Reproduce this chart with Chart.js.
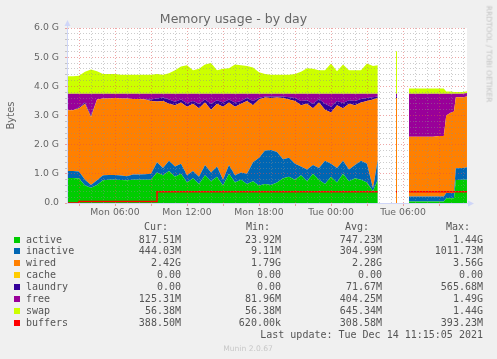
<!DOCTYPE html>
<html>
<head>
<meta charset="utf-8">
<title>Memory usage - by day</title>
<script src="https://cdn.jsdelivr.net/npm/chart.js@4.4.1/dist/chart.umd.min.js"></script>
<style>
  body { margin: 0; background: #f0f0f0; }
  #contenitore { position: relative; width: 497px; height: 359px; overflow: hidden; }
  #grafico { position: absolute; left: 0; top: 0; }
  .testo { position: absolute; white-space: pre; font-family: "DejaVu Sans Mono", monospace; font-size: 10px; line-height: 12px; height: 12px; color: #555; }
  .quadrato { position: absolute; width: 6px; height: 6px; }
  #rrd { position: absolute; left: 488.5px; top: 53.5px; transform: translate(-50%, -50%) rotate(90deg); font-family: "DejaVu Sans", sans-serif; font-size: 7.5px; line-height: 9px; color: #c4c4c4; white-space: nowrap; }
  #versione { position: absolute; left: 248px; top: 348px; transform: translate(-50%, -50%); font-family: "DejaVu Sans", sans-serif; font-size: 7.6px; line-height: 9px; color: #c8c8c8; white-space: nowrap; }
</style>
</head>
<body>
<div id="contenitore">
  <canvas id="grafico" width="497" height="359"></canvas>
  <div id="legenda"></div>
  <div id="rrd">RRDTOOL / TOBI OETIKER</div>
  <div id="versione">Munin 2.0.67</div>
</div>
<script>

// ore dall'inizio di lunedi (2 = Mon 02:00, 35.33 = Tue 11:20), null = buco nei dati
var ore = [2.0,2.5,3.0,3.5,4.0,4.5,5.0,5.5,6.0,6.5,
  7.0,7.5,8.0,8.5,9.0,9.5,10.0,10.5,11.0,11.5,
  12.0,12.5,13.0,13.5,14.0,14.5,15.0,15.5,16.0,16.5,
  17.0,17.5,18.0,18.5,19.0,19.5,20.0,20.5,21.0,21.5,
  22.0,22.5,23.0,23.5,24.0,24.5,25.0,25.5,26.0,26.5,
  27.0,27.5,27.9,28.4,29.4167,29.5,30.0,30.5,31.0,31.5,
  32.0,32.5,33.0,33.4,33.6,34.0,34.25,34.4,35.0,35.33];

// valori in G
var active = [.86,.86,.84,.60,.52,.62,.78,.80,.80,.79,
  .78,.80,.80,.80,.80,1.05,.95,1.10,.90,1.00,
  .70,.85,.65,.95,.75,.90,.60,1.00,.70,.80,
  .65,.75,.60,.65,.62,.70,.85,.90,.80,.95,
  .75,1.00,.80,.65,.90,.70,1.00,.75,.85,.80,
  .70,.40,.80,null,0,0,null,.05,.05,.05,
  .05,.05,.05,.05,.16,.16,.16,.79,.80,.80];

var inactive = [.24,.24,.24,.20,.10,.16,.17,.16,.16,.15,
  .14,.18,.18,.19,.20,.35,.25,.35,.35,.35,
  .25,.25,.25,.35,.30,.35,.20,.30,.25,.25,
  .35,.65,.95,1.15,1.20,1.05,.65,.65,.55,.30,
  .40,.30,.40,.80,.45,.50,.45,.40,.45,.65,
  .65,.10,.70,null,0,0,null,.17,.17,.17,
  .17,.17,.17,.17,.18,.18,.18,.40,.40,.43];

var wired = [2.08,2.08,2.17,2.60,2.33,2.77,2.63,2.62,2.64,2.64,
  2.66,2.59,2.59,2.56,2.50,2.08,2.30,1.95,2.10,2.10,
  2.35,2.30,2.35,2.15,2.15,2.15,2.50,2.15,2.35,2.35,
  2.50,1.95,2.00,1.82,1.78,1.87,2.10,2.00,2.15,2.10,
  2.25,1.95,2.25,1.75,1.75,2.15,1.80,2.25,2.05,2.00,
  2.15,3.05,2.10,null,3.60,3.60,null,2.05,2.05,2.05,
  2.05,2.05,2.08,2.08,2.66,2.76,2.80,2.44,2.43,2.42];

var cache = [0,0,0,0,0,0,0,0,0,0,
  0,0,0,0,0,0,0,0,0,0,
  0,0,0,0,0,0,0,0,0,0,
  0,0,0,0,0,0,0,0,0,0,
  0,0,0,0,0,0,0,0,0,0,
  0,0,0,null,0,0,null,0,0,0,
  0,0,0,0,0,0,0,0,0,0];

var laundry = [0,0,.03,.05,.05,0,0,0,0,0,
  0,0,0,0,.05,.10,.12,.15,.12,.10,
  .12,.10,.15,.10,.20,.12,.15,.10,.15,.10,
  .10,.15,.05,.03,.05,.03,.05,.08,.10,.15,
  .12,.15,.12,.20,.20,.15,.18,.12,.15,.12,
  .10,.08,.05,null,.05,.05,null,0,0,0,
  0,0,0,0,0,0,0,0,0,0];

var free = [.57,.57,.47,.30,.75,.20,.17,.17,.15,.17,
  .17,.18,.18,.20,.20,.17,.13,.20,.28,.20,
  .33,.25,.35,.20,.35,.23,.30,.20,.30,.25,
  .15,.25,.15,.10,.10,.10,.10,.12,.15,.25,
  .23,.35,.18,.35,.45,.25,.32,.23,.25,.18,
  .15,.12,.10,null,.10,.10,null,1.48,1.48,1.48,
  1.48,1.48,1.45,1.45,.75,.65,.61,.12,.12,.12];

var swap = [.60,.60,.61,.75,.83,.77,.67,.67,.67,.65,
  .65,.65,.65,.65,.65,.67,.65,.70,.80,.93,
  .97,.80,.85,1.00,1.05,.80,.85,.87,1.00,.97,
  .95,.90,.73,.67,.65,.65,.65,.65,.67,.75,
  .87,.85,.80,.80,1.03,.77,1.00,.80,.80,.80,
  1.03,.95,.97,null,1.45,1.45,null,.18,.18,.18,
  .18,.18,.18,.18,.07,.07,.06,.06,.06,.06];

var buffers = [0,0,.05,.05,.05,.05,.05,.05,.05,.05,
  .05,.05,.05,.05,.05,.39,.39,.39,.39,.39,
  .39,.39,.39,.39,.39,.39,.39,.39,.39,.39,
  .39,.39,.39,.39,.39,.39,.39,.39,.39,.39,
  .39,.39,.39,.39,.39,.39,.39,.39,.39,.39,
  .39,.39,.39,null,.39,.39,null,.39,.39,.39,
  .39,.39,.39,.39,.39,.39,.39,.39,.39,.39];

// etichette assi
var xTickOre = [6, 12, 18, 24, 30];
var xTickTesti = ["Mon 06:00", "Mon 12:00", "Mon 18:00", "Tue 00:00", "Tue 06:00"];
var yTickValori = [0, 1, 2, 3, 4, 5, 6];
var yTickTesti = ["0.0", "1.0 G", "2.0 G", "3.0 G", "4.0 G", "5.0 G", "6.0 G"];

// legenda
var nomiSerie = ["active", "inactive", "wired", "cache", "laundry", "free", "swap", "buffers"];
var coloriSerie = ["#00CC00", "#0066B3", "#FF8000", "#FFCC00", "#330099", "#990099", "#CCFF00", "#FF0000"];
var valCur = ["817.51M", "444.03M", "2.42G", "0.00", "0.00", "125.31M", "56.38M", "388.50M"];
var valMin = ["23.92M", "9.11M", "1.79G", "0.00", "0.00", "81.96M", "56.38M", "620.00k"];
var valAvg = ["747.23M", "304.99M", "2.28G", "0.00", "71.67M", "404.25M", "645.34M", "308.58M"];
var valMax = ["1.44G", "1011.73M", "3.56G", "0.00", "565.68M", "1.49G", "1.44G", "393.23M"];
var ultimoAggiornamento = "Last update: Tue Dec 14 11:15:05 2021";

var coloreMaggiore = "rgba(222, 79, 79, 0.5)";
var coloreMinore = "rgba(143, 143, 143, 0.45)";
var coloreAsse = "#CFD6F8";


function punti(serie) {
  var lista = [];
  for (var i = 0; i < ore.length; i++) {
    lista.push({ x: ore[i], y: serie[i] });
  }
  return lista;
}

function areaStack(indice, serie) {
  return {
    label: nomiSerie[indice],
    data: punti(serie),
    backgroundColor: coloriSerie[indice],
    borderColor: "transparent",
    borderWidth: 0,
    pointRadius: 0,
    tension: 0,
    stack: "mem",
    fill: indice == 0 ? "origin" : "-1"
  };
}

function coloreGriglia(valore, passo) {
  var r = valore / passo;
  return Math.abs(r - Math.round(r)) < 1e-6 ? coloreMaggiore : coloreMinore;
}

// sfondo bianco dell'area e frecce degli assi
var sfondoArea = {
  id: "sfondoArea",
  beforeDraw: function(chart) {
    var a = chart.chartArea;
    var ctx = chart.ctx;
    ctx.save();
    ctx.fillStyle = "#ffffff";
    ctx.fillRect(a.left, a.top, a.right - a.left, a.bottom - a.top);
    ctx.restore();
  },
  afterDraw: function(chart) {
    var a = chart.chartArea;
    var ctx = chart.ctx;
    ctx.save();
    ctx.fillStyle = coloreAsse;
    ctx.strokeStyle = coloreAsse;
    ctx.lineWidth = 1;
    ctx.beginPath();
    ctx.moveTo(a.left + 0.5, a.top);
    ctx.lineTo(a.left + 0.5, a.top - 3);
    ctx.moveTo(a.right, a.bottom + 0.5);
    ctx.lineTo(a.right + 2, a.bottom + 0.5);
    ctx.stroke();
    ctx.beginPath();
    ctx.moveTo(a.left - 2.5, a.top - 2);
    ctx.lineTo(a.left + 3.5, a.top - 2);
    ctx.lineTo(a.left + 0.5, a.top - 8);
    ctx.fill();
    ctx.beginPath();
    ctx.moveTo(a.right + 1, a.bottom - 2.5);
    ctx.lineTo(a.right + 1, a.bottom + 3.5);
    ctx.lineTo(a.right + 7, a.bottom + 0.5);
    ctx.fill();
    ctx.restore();
  }
};

function disegnaGrafico() {
  var ctx = document.getElementById("grafico").getContext("2d");

  var datasets = [
    areaStack(0, active),
    areaStack(1, inactive),
    areaStack(2, wired),
    areaStack(3, cache),
    areaStack(4, laundry),
    areaStack(5, free),
    areaStack(6, swap),
    {
      label: nomiSerie[7],
      data: punti(buffers),
      borderColor: coloriSerie[7],
      borderWidth: 1.5,
      pointRadius: 0,
      stepped: true,
      fill: false,
      stack: "buf",
      order: -1
    }
  ];

  var font = { family: "'DejaVu Sans', sans-serif", size: 9.3 };

  new Chart(ctx, {
    type: "line",
    data: { datasets: datasets },
    plugins: [sfondoArea],
    options: {
      responsive: false,
      animation: false,
      layout: { padding: { left: 0, right: 30, top: 0, bottom: 136 } },
      plugins: {
        legend: { display: false },
        tooltip: { enabled: false },
        title: {
          display: true,
          text: "Memory usage - by day",
          color: "#666",
          font: { family: "'DejaVu Sans', sans-serif", size: 12.5, weight: "normal" },
          padding: { top: 12, bottom: 1 }
        }
      },
      scales: {
        x: {
          type: "linear",
          min: 2,
          max: 35.333,
          afterFit: function(s) { s.height = 20; },
          afterBuildTicks: function(s) {
            var t = [];
            for (var h = 3; h <= 35; h++) t.push({ value: h });
            s.ticks = t;
          },
          ticks: {
            autoSkip: false,
            maxRotation: 0,
            padding: 1,
            color: "#666",
            font: font,
            callback: function(v) {
              var k = xTickOre.indexOf(v);
              return k >= 0 ? xTickTesti[k] : "";
            }
          },
          grid: {
            z: 1,
            color: function(c) { return coloreGriglia(c.tick.value, 3); },
            tickColor: function(c) { return c.tick.value % 3 == 0 ? coloreMaggiore : "transparent"; },
            tickLength: 3
          },
          border: { color: coloreAsse, dash: [1, 2], z: 2 }
        },
        y: {
          stacked: true,
          min: 0,
          max: 6,
          afterFit: function(s) { s.width = 67; },
          afterBuildTicks: function(s) {
            var t = [];
            for (var k = 0; k <= 30; k++) t.push({ value: k / 5 });
            s.ticks = t;
          },
          ticks: {
            autoSkip: false,
            padding: 6,
            color: "#666",
            font: font,
            callback: function(v) {
              var k = yTickValori.indexOf(v);
              return k >= 0 ? yTickTesti[k] : "";
            }
          },
          grid: {
            z: 1,
            color: function(c) { return coloreGriglia(c.tick.value, 1); },
            tickColor: function(c) { return coloreGriglia(c.tick.value, 1); },
            tickLength: 2
          },
          border: { color: coloreAsse, dash: [1, 2], z: 2 },
          title: {
            display: true,
            text: "Bytes",
            color: "#666",
            font: { family: "'DejaVu Sans', sans-serif", size: 10 },
            padding: { top: 5, bottom: 0 }
          }
        }
      }
    }
  });
}

function scriviTesto(testo, destra, centroY, sinistra) {
  var el = document.createElement("div");
  el.className = "testo";
  el.textContent = testo;
  if (sinistra) {
    el.style.left = sinistra + "px";
  } else {
    el.style.right = (497 - destra) + "px";
  }
  el.style.top = (centroY - 6) + "px";
  document.getElementById("legenda").appendChild(el);
}

function disegnaLegenda() {
  var legenda = document.getElementById("legenda");

  scriviTesto("Cur:", 168, 227);
  scriviTesto("Min:", 270, 227);
  scriviTesto("Avg:", 369, 227);
  scriviTesto("Max:", 470, 227);

  for (var i = 0; i < nomiSerie.length; i++) {
    var y = 239.5 + i * 11.9;

    var q = document.createElement("div");
    q.className = "quadrato";
    q.style.background = coloriSerie[i];
    q.style.left = "14px";
    q.style.top = (y - 3) + "px";
    legenda.appendChild(q);

    scriviTesto(nomiSerie[i], 0, y, 26);
    scriviTesto(valCur[i], 181, y);
    scriviTesto(valMin[i], 281, y);
    scriviTesto(valAvg[i], 382, y);
    scriviTesto(valMax[i], 483, y);
  }

  scriviTesto(ultimoAggiornamento, 483, 335);
}

disegnaGrafico();
disegnaLegenda();

</script>
</body>
</html>
